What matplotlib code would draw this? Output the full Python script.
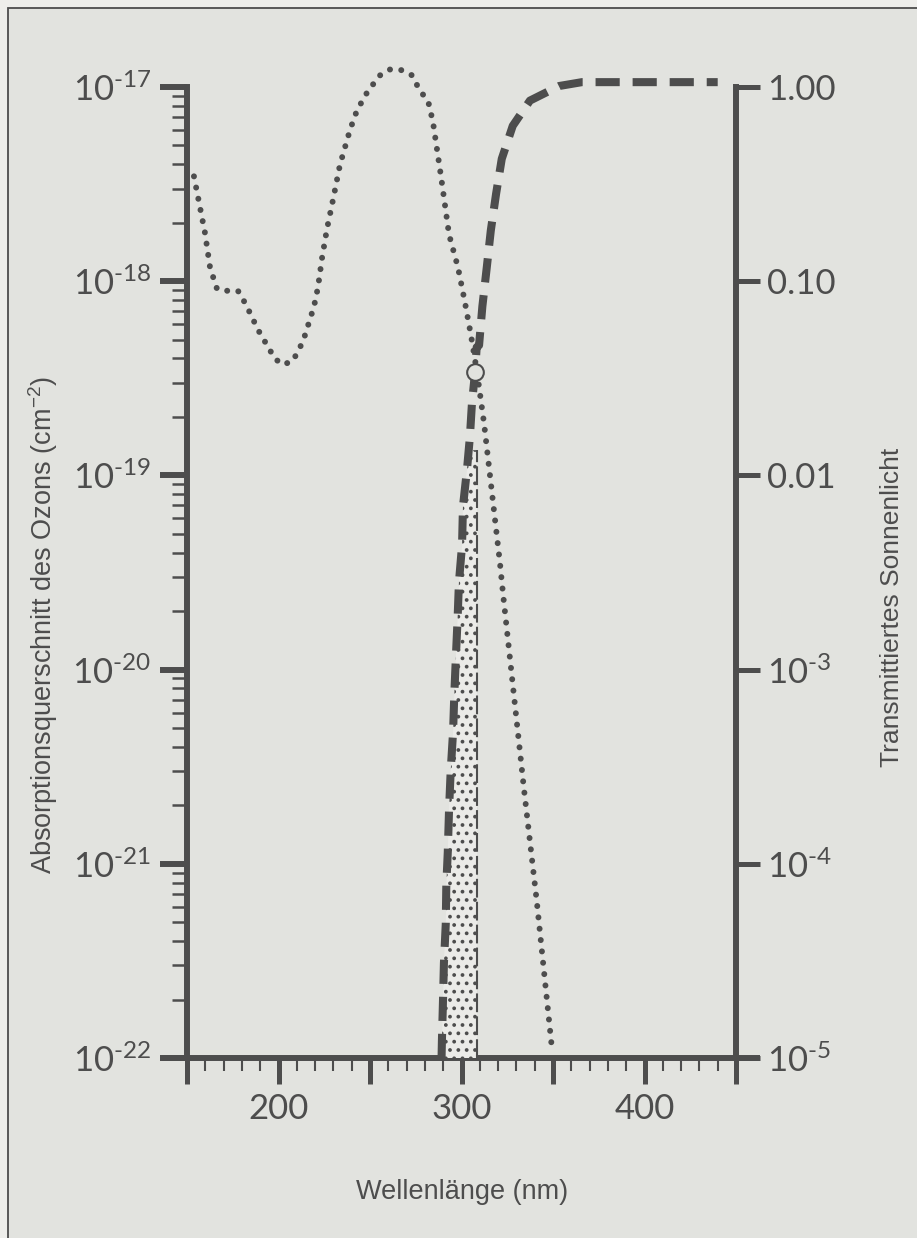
import numpy as np
import matplotlib.pyplot as plt
from matplotlib.patches import Rectangle
from matplotlib.ticker import LogLocator, NullLocator, MultipleLocator, NullFormatter

# Absorptionsquerschnitt Ozon (linke Achse, log10 cm^-2)
wl_ozon = [153.8, 159.8, 162.6, 166.4, 172.4, 177.9, 182.2, 188.8, 198.1, 202.5,
           207.9, 213.4, 219.4, 221.6, 223.8, 226.5, 229.8, 233.6, 239.1, 242.9,
           248.9, 255.5, 260.9, 266.4, 273.0, 277.3, 281.7, 284.4, 286.6, 288.8,
           293.2, 298.1, 301.9, 305.2, 308.5, 312.3, 321.0, 322.7, 334.2, 341.1,
           349.3]
log_sigma = [-17.46, -17.75, -17.93, -18.04, -18.05, -18.05, -18.12, -18.25, -18.40, -18.43,
             -18.41, -18.31, -18.13, -18.03, -17.88, -17.73, -17.58, -17.40, -17.22, -17.12,
             -17.02, -16.94, -16.91, -16.91, -16.94, -17.02, -17.07, -17.18, -17.32, -17.46,
             -17.76, -17.93, -18.11, -18.28, -18.47, -18.73, -19.45, -19.61, -20.62, -21.19,
             -21.94]

# Transmittiertes Sonnenlicht (rechte Achse, log10)
wl_trans = [289.1, 289.3, 289.9, 290.4, 291.4, 291.7, 292.5, 293.2, 294.1, 295.4,
            296.1, 297.0, 297.9, 298.6, 300.3, 300.8, 303.0, 304.6, 305.7, 307.4,
            308.3, 309.6, 311.4, 313.8, 316.0, 318.9, 322.0, 328.0, 337.4, 353.3,
            365.8, 440.0]
log_trans = [-5.0, -4.91, -4.70, -4.51, -4.31, -4.11, -3.94, -3.72, -3.52, -3.32,
             -3.12, -2.92, -2.73, -2.55, -2.36, -2.16, -1.97, -1.80, -1.63, -1.47,
             -1.34, -1.33, -1.13, -0.93, -0.74, -0.55, -0.37, -0.20, -0.07, 0.005,
             0.025, 0.025]

# Schnittpunkt (rechte Achse) und punktierte Flaeche
cross_wl, cross_log_trans = 307.5, -1.47
stipple_right = 308.5
stipple_top_log = -1.87

x_major = [150, 200, 250, 300, 350, 400, 450]
x_labels = ['', '200', '', '300', '', '400', '']
left_ticks = [1e-22, 1e-21, 1e-20, 1e-19, 1e-18, 1e-17]
left_labels = ['$10^{\u201022}$', '$10^{\u201021}$', '$10^{\u201020}$',
               '$10^{\u201019}$', '$10^{\u201018}$', '$10^{\u201017}$']
right_ticks = [1e-5, 1e-4, 1e-3, 1e-2, 1e-1, 1.0]
right_labels = ['$10^{\u20105}$', '$10^{\u20104}$', '$10^{\u20103}$', '0.01', '0.10', '1.00']

ink = '#4d4d4d'
bg_in = '#e2e3df'
bg_out = '#eeeeeb'

plt.rcParams['mathtext.default'] = 'regular'
plt.rcParams['hatch.color'] = ink
plt.rcParams['hatch.linewidth'] = 1.5

W, H = 917, 1238
fig = plt.figure(figsize=(W / 100, H / 100), dpi=100, facecolor=bg_out)
fig.add_artist(Rectangle((8 / W, -0.05), 1.0, 1 - 8 / H + 0.05, transform=fig.transFigure,
                         facecolor=bg_in, edgecolor=ink, lw=1.3, zorder=-10))

ax = fig.add_axes([187 / W, 1 - 1058 / H, 549 / W, 971 / H])
ax.patch.set_visible(False)
ax.set_xlim(150, 450)
ax.set_yscale('log')
ax.set_ylim(1e-22, 1e-17)

ax2 = ax.twinx()
ax2.patch.set_visible(False)
ax2.set_yscale('log')
ax2.set_ylim(1e-5, 1.0)

for a in (ax, ax2):
    for s in ('top', 'bottom'):
        a.spines[s].set_visible(False)
    for s in ('left', 'right'):
        a.spines[s].set_linewidth(4.3)
        a.spines[s].set_color(ink)
ax.spines['right'].set_visible(False)
ax2.spines['left'].set_visible(False)

# verlaengerte x-Achse
ax.plot([-25 / 549, 1 + 24 / 549], [0, 0], transform=ax.transAxes, clip_on=False,
        color=ink, lw=4.3, solid_capstyle='butt', zorder=5)

# x-Ticks
ax.set_xticks(x_major, x_labels)
ax.xaxis.set_minor_locator(MultipleLocator(10))
ax.tick_params(axis='x', which='major', direction='out', length=19, width=3.6, color=ink,
               labelsize=25, labelcolor=ink, pad=6, labelfontfamily='Lato')
ax.tick_params(axis='x', which='minor', direction='out', length=9, width=1.5, color=ink)

# linke Achse
ax.set_yticks(left_ticks, left_labels)
ax.yaxis.set_minor_locator(LogLocator(base=10, subs=range(2, 10), numticks=20))
ax.yaxis.set_minor_formatter(NullFormatter())
ax.tick_params(axis='y', which='major', direction='out', length=19.5, width=4.3, color=ink,
               labelsize=25, labelcolor=ink, pad=6, labelfontfamily='Lato')
ax.tick_params(axis='y', which='minor', direction='out', length=11, width=1.8, color=ink)

# rechte Achse
ax2.set_yticks(right_ticks, right_labels)
ax2.yaxis.set_minor_locator(NullLocator())
ax2.tick_params(axis='y', which='major', direction='out', length=17.3, width=3.6, color=ink,
                labelsize=25, labelcolor=ink, pad=5, labelfontfamily='Lato')

# punktierte Flaeche unter der Transmissionskurve
wt = np.array(wl_trans)
lt = np.array(log_trans)
m = lt <= stipple_top_log
yy = np.append(10 ** lt[m], 10 ** stipple_top_log)
xx = np.append(wt[m], np.interp(stipple_top_log, lt, wt))
ax2.fill_betweenx(yy, xx, stipple_right, facecolor='#ebebe8', edgecolor=ink,
                  linewidth=0, hatch='..', zorder=1)
ax2.vlines(stipple_right, 1e-5, 10 ** stipple_top_log, colors=ink, lw=1.5,
           linestyles=(0, (9, 2)), zorder=2)

# Kurven
ax.plot(wl_ozon, 10 ** np.array(log_sigma), color=ink, lw=4.3, clip_on=False,
        linestyle=(0, (0.01, 1.9)), dash_capstyle='round', zorder=3)
ax2.plot(wl_trans, 10 ** lt, color=ink, lw=5.8, linestyle=(0, (3, 1.6)), clip_on=False,
         dash_capstyle='butt', zorder=3)
ax2.plot([cross_wl], [10 ** cross_log_trans], marker='o', ms=12, mfc=bg_in,
         mec=ink, mew=1.5, linestyle='none', zorder=6)

fig.text(462 / W, 1 - 1192 / H, 'Wellenlänge (nm)', ha='center', va='center',
         fontsize=19.5, color=ink, family='Liberation Sans')
fig.text(43 / W, 1 - 625 / H, 'Absorptionsquerschnitt des Ozons (cm$^{-2}$)',
         ha='center', va='center', rotation=90, fontsize=19.5, color=ink,
         family='Liberation Sans')
fig.text(892 / W, 1 - 607 / H, 'Transmittiertes Sonnenlicht', ha='center', va='center',
         rotation=90, fontsize=19, color=ink, family='Liberation Sans')

fig.savefig('out.png', dpi=100, facecolor=bg_out)
